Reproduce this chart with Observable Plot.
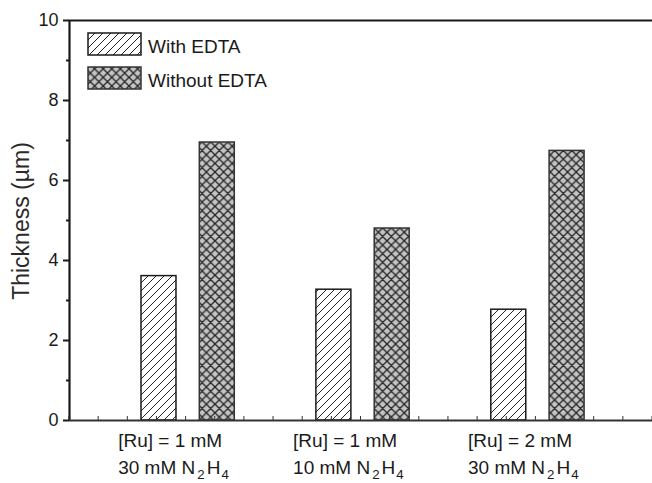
<!DOCTYPE html>
<html><head><meta charset="utf-8">
<script src="https://cdn.jsdelivr.net/npm/d3@7"></script>
<script src="https://cdn.jsdelivr.net/npm/@observablehq/plot@0.6"></script>
<style>
body{margin:0;background:#fff;}
#chart svg{font-family:"Liberation Sans",Arial,sans-serif;}
</style>
</head><body><div id="chart"></div>
<script>
// ---- data ----
const ruLabels = ["[Ru] = 1 mM", "[Ru] = 1 mM", "[Ru] = 2 mM"];
const hydrazineLabels = ["30 mM N2H4", "10 mM N2H4", "30 mM N2H4"];
const series = ["With EDTA", "Without EDTA"];
const withEDTA = [3.61, 3.27, 2.77];
const withoutEDTA = [6.95, 4.80, 6.74];
const yMajorTicks = [0, 2, 4, 6, 8, 10];
const yMinorTicks = [1, 3, 5, 7, 9];
const xMinorTicks = d3.range(0, 21);
const yLabel = "Thickness (µm)";

// ---- layout helpers ----
const W = 652, H = 483, mL = 69, mT = 20, mB = 63, mR = 0;
const groupCenter = i => 4.07 + 6 * i;
const fills = ["url(#hatchWith)", "url(#hatchWithout)"];
const strokes = ["#1a1a1a", "#333"];

const rows = [];
ruLabels.forEach((g, i) => {
  series.forEach((s, j) => {
    const c = groupCenter(i) + (j === 0 ? -1 : 1);
    rows.push({group: i, series: s, j, value: j === 0 ? withEDTA[i] : withoutEDTA[i], x1: c - 0.6, x2: c + 0.6});
  });
});
const labelRows = ruLabels.map((r, i) => ({x: groupCenter(i) - 2.4, ru: r, hz: hydrazineLabels[i]}));

const defsMark = () => {
  const svg = d3.create("svg:g");
  const defs = svg.append("defs");
  const p1 = defs.append("pattern").attr("id", "hatchWith").attr("patternUnits", "userSpaceOnUse")
    .attr("width", 8).attr("height", 8);
  p1.append("rect").attr("width", 8).attr("height", 8).attr("fill", "#fff");
  p1.append("path").attr("d", "M-2,2 L2,-2 M0,8 L8,0 M6,10 L10,6").attr("stroke", "#222").attr("stroke-width", 1);
  const p2 = defs.append("pattern").attr("id", "hatchWithout").attr("patternUnits", "userSpaceOnUse")
    .attr("width", 8.6).attr("height", 8.6);
  p2.append("rect").attr("width", 8.6).attr("height", 8.6).attr("fill", "#c4c4c4");
  p2.append("path").attr("d", "M-2,2 L2,-2 M0,8.6 L8.6,0 M6.6,10.6 L10.6,6.6 M-2,6.6 L2,10.6 M0,0 L8.6,8.6 M6.6,-2 L10.6,2")
    .attr("stroke", "#262626").attr("stroke-width", 1.35);
  return svg.node();
};

const xTickMark = (index, scales) => {
  const g = d3.create("svg:g").attr("stroke", "#333").attr("stroke-width", 1);
  const y0 = scales.y(0);
  xMinorTicks.forEach(v => {
    const x = scales.x(v);
    g.append("line").attr("x1", x).attr("x2", x).attr("y1", y0).attr("y2", y0 - 4);
  });
  return g.node();
};

const legendMark = () => {
  const g = d3.create("svg:g").attr("text-anchor", "start");
  const x0 = mL + 19, y0 = mT + 13;
  series.forEach((s, j) => {
    g.append("rect").attr("x", x0).attr("y", y0 + j * 34).attr("width", 53).attr("height", 22)
      .attr("fill", fills[j]).attr("stroke", strokes[j]).attr("stroke-width", 1.5);
    g.append("text").attr("x", x0 + 60).attr("y", y0 + j * 34 + 13).attr("dy", "0.35em")
      .attr("text-anchor", "start").attr("font-size", 19).attr("fill", "#1a1a1a").text(s);
  });
  g.append("text").attr("transform", `translate(21,${(mT + H - mB) / 2 + 1}) rotate(-90)`)
    .attr("text-anchor", "middle").attr("dy", "0.35em").attr("font-size", 23).attr("fill", "#2a2a2a").text(yLabel);
  return g.node();
};

const chart = Plot.plot({
  width: W, height: H,
  marginLeft: mL, marginRight: mR, marginTop: mT, marginBottom: mB,
  x: {domain: [0, 20], axis: null},
  y: {domain: [0, 10], axis: null},
  style: {fontFamily: "Liberation Sans, Arial, sans-serif", background: "#fff", color: "#1a1a1a"},
  marks: [
    defsMark,
    Plot.rect(rows.filter(d => d.j === 0), {x1: "x1", x2: "x2", y1: 0, y2: "value", fill: fills[0], stroke: strokes[0], strokeWidth: 1.5}),
    Plot.rect(rows.filter(d => d.j === 1), {x1: "x1", x2: "x2", y1: 0, y2: "value", fill: fills[1], stroke: strokes[1], strokeWidth: 1.5}),
    xTickMark,
    Plot.axisY(yMajorTicks, {tickSize: 6, tickPadding: 5, fontSize: 18, label: null, stroke: "#1a1a1a", strokeWidth: 2, fill: "#1a1a1a"}),
    Plot.axisY(yMinorTicks, {tickSize: 3, tickFormat: () => "", label: null, stroke: "#1a1a1a", strokeWidth: 2}),
    Plot.ruleX([0], {stroke: "#1a1a1a", strokeWidth: 2.2}),
    Plot.ruleY([0], {stroke: "#333", strokeWidth: 2.2}),
    Plot.ruleY([10], {stroke: "#1a1a1a", strokeWidth: 2.2}),
    Plot.text(labelRows, {x: "x", y: 0, text: "ru", textAnchor: "start", dy: 20, fontSize: 19, fill: "#1a1a1a"}),
    Plot.text(labelRows, {x: "x", y: 0, text: "hz", textAnchor: "start", dy: 47, fontSize: 19, fill: "#1a1a1a"}),
    legendMark
  ]
});
document.getElementById("chart").appendChild(chart);

// subscripts for N2H4
d3.select(chart).selectAll("text").each(function() {
  const t = d3.select(this);
  const s = t.text();
  const m = s.match(/^(.*N)2H4$/);
  if (!m) return;
  t.text(null);
  t.append("tspan").text(m[1]);
  t.append("tspan").attr("dy", 5).attr("font-size", "70%").attr("dx", 2).text("2");
  t.append("tspan").attr("dy", -5).attr("dx", 2).text("H");
  t.append("tspan").attr("dy", 5).attr("font-size", "70%").attr("dx", 1).text("4");
});
</script>
</body></html>
